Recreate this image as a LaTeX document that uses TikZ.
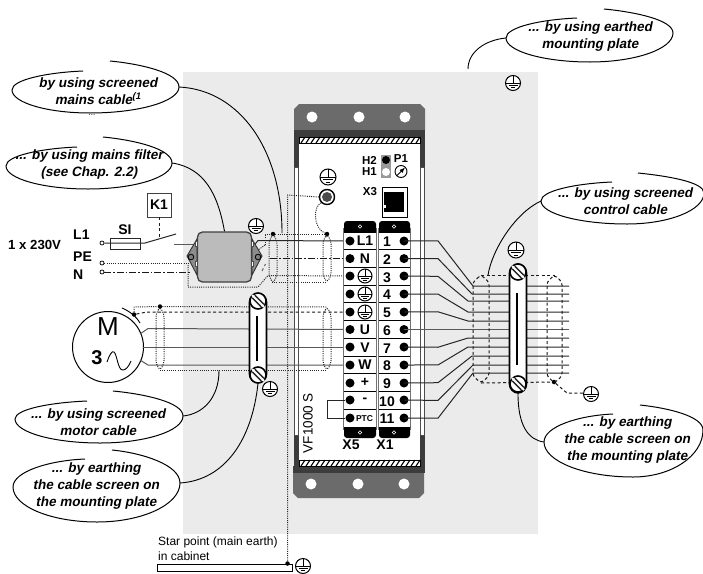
\documentclass[tikz,border=0pt]{standalone}
\usepackage{fontspec}
\setmainfont{Liberation Sans}
\newfontfamily\bubfont[FakeSlant=0.2]{Liberation Sans Bold}
\usetikzlibrary{calc}
\definecolor{plate}{HTML}{EBEBEB}
\definecolor{midg}{HTML}{6B6B6B}
\definecolor{darkg}{HTML}{3C3C3C}
\definecolor{filterg}{HTML}{BBBBBB}
\tikzset{
  wire/.style={line width=1pt,black!85},
  gwire/.style={line width=1pt,black!65},
  dots/.style={line width=1pt,black!85,dash pattern=on 1pt off 1.2pt},
  dashd/.style={line width=1pt,black!90,dash pattern=on 3pt off 2.5pt},
  dashdot/.style={line width=1pt,black!90,dash pattern=on 7pt off 2pt on 1.5pt off 2pt},
  bub/.style={line width=1pt,black},
  lead/.style={line width=.9pt,black},
  bubtext/.style={font=\bubfont\fontsize{13.5}{17}\selectfont,align=center,inner sep=0pt},
  lab/.style={font=\fontsize{14}{15}\selectfont\bfseries,inner sep=0pt},
  smalllab/.style={font=\fontsize{11.5}{13}\selectfont\bfseries,inner sep=0pt},
  plain/.style={font=\fontsize{12}{14}\selectfont,inner sep=0pt,anchor=base west},
  jdot/.style={circle,fill=black,inner sep=0pt,minimum size=4.5pt},
  tdot/.style={circle,fill=black,inner sep=0pt,minimum size=9pt},
  oc/.style={circle,draw=black,fill=white,line width=.7pt,inner sep=0pt,minimum size=4pt},
  hole/.style={circle,fill=white,inner sep=0pt,minimum size=11pt},
  tinyhole/.style={circle,draw=white,line width=.6pt,inner sep=0pt,minimum size=3.5pt},
}
\newcommand{\earthsym}[3]{%
  \draw[line width=1pt,fill=white] (#1,#2) circle (#3);
  \draw[line width=1pt] ({#1-#3},#2) -- ({#1+#3},#2)
    (#1,{#2-#3}) -- (#1,#2)
    ({#1-.6*#3},{#2+.35*#3}) -- ({#1+.6*#3},{#2+.35*#3})
    ({#1-.3*#3},{#2+.65*#3}) -- ({#1+.3*#3},{#2+.65*#3});}
\newcommand{\screwsym}[2]{%
  \draw[line width=1.6pt,fill=white] (#1,#2) circle (8);
  \draw[line width=5pt,black!85] ({#1-4.5},{#2-4.5}) -- ({#1+4.5},{#2+4.5});
  \draw[line width=2pt,white] ({#1-6},{#2-6}) -- ({#1+6},{#2+6});}
\newcommand{\lenssym}[5]{%
  \draw[#5,rounded corners=3pt] (#1,#2) -- ({#1-#4},{#2+7}) -- ({#1-#4},{#3-7}) -- (#1,#3)
    -- ({#1+#4},{#3-7}) -- ({#1+#4},{#2+7}) -- cycle;}
\newcommand{\bubblepath}[6]{%
  \coordinate (#1s) at (#2); \coordinate (#1r) at (#3); \coordinate (#1b) at (#4);
  \coordinate (#1l) at (#5); \coordinate (#1t) at (#6);
  \draw[bub] (#1s) .. controls ($(#1s)!.45!(#1s -| #1r)+(0,3)$) and ($(#1r)!.55!(#1s -| #1r)$) .. (#1r)
    .. controls ($(#1r)!.55!(#1r |- #1b)$) and ($(#1b)!.55!(#1r |- #1b)$) .. (#1b)
    .. controls ($(#1b)!.55!(#1l |- #1b)$) and ($(#1l)!.55!(#1l |- #1b)$) .. (#1l)
    .. controls ($(#1l)!.55!(#1l |- #1t)$) and ($(#1t)!.5!(#1l |- #1t)+(0,1.5)$) .. (#1t);}
\begin{document}
\begin{tikzpicture}[x=1pt,y=-1pt]
\useasboundingbox (0,0) rectangle (703,573);
% mounting plate
\fill[plate] (183,72) rectangle (538,534);
% device body
\fill[white] (299,130) rectangle (420,473);
\fill[midg] (294,130) -- (294,109) -- (299,104) -- (420,104) -- (425,109) -- (425,130) -- cycle;
\fill[midg] (293,473) -- (293,493) -- (298,498) -- (419,498) -- (424,493) -- (424,473) -- cycle;
\fill[darkg] (294,130) rectangle (425,137);
\fill[darkg] (293,466) rectangle (424,473);
\fill[darkg] (294,130) rectangle (299,167);
\fill[darkg] (420,130) rectangle (425,167);
\fill[darkg] (293.5,435) rectangle (299,473);
\fill[darkg] (420,435) rectangle (424.5,473);
\draw[black!70,line width=1pt,fill=white] (294.5,167) rectangle (298.5,435);
\draw[black!70,line width=1pt,fill=white] (420.5,167) rectangle (424.5,435);
\foreach \y in {137,460}{
  \draw[black,line width=.7pt,fill=white] (299,\y) rectangle (420,{\y+6});
  \foreach \x in {301,306,...,416}{
    \draw[black,line width=1.1pt] (\x,{\y+6}) -- ({\x+4},\y);}
}
\foreach \x/\n in {312/a,359/b,405/c}{\node[hole] (th\n) at (\x,117) {};}
\foreach \x/\n in {311/a,358/b,404/c}{\node[hole] (bh\n) at (\x,484) {};}
% LEDs, pot, socket
\fill[black!40] (381,155) rectangle (391,178);
\node[circle,fill=black,inner sep=0pt,minimum size=8pt] (led2) at (386,160) {};
\node[circle,fill=white,inner sep=0pt,minimum size=8pt] (led1) at (386,172) {};
\node[smalllab] (h2) at (369.5,160) {H2};
\node[smalllab] (h1) at (369.5,172) {H1};
\node[smalllab] (p1) at (401,158.5) {P1};
\draw[line width=.9pt] (401,171.5) circle (6);
\draw[line width=.9pt,-latex] (397,175.5) -- (405,167.5);
\node[smalllab] (x3) at (370,192) {X3};
\draw[line width=1pt,fill=white] (382,187) rectangle (407,217);
\fill[black] (384,192) rectangle (404,212);
\fill[white] (384,205) rectangle (386,208);
% earth bolt
\earthsym{328}{177}{8}
\node[circle,draw=black,line width=1.4pt,fill=white,inner sep=0pt,minimum size=15pt] (bolt) at (327,197) {};
\fill[black!70] (327,197) circle (5);
% terminal coordinates
\foreach \i/\y in {1/241,2/258.6,3/276,4/294,5/312,6/329.5,7/347,8/365,9/383,10/400,11/418}{
  \coordinate (v\i) at (350,\y);
  \coordinate (o\i) at (404,\y);
}
% star point wiring
\node[jdot] (ja) at (327,234) {};
\node[jdot] (jb) at (273,234) {};
\draw[dots] (bolt.west) -- (287.5,195) -- (287.5,563);
\draw[dots] (bolt.south west) .. controls (313,206) and (313,228) .. (ja);
% mains cable screen
\draw[dots] (265,245) -- (265,234) -- (jb) -- (ja);
\draw[dots] (265,245) -- (258,250);
\draw[dots] (272,282.5) -- (327,282.5);
\draw[dots] (188,265) -- (188,287) -- (258,287) -- (268,275.5) -- (v3);
\lenssym{273}{234}{283}{4}{dots}
\lenssym{327}{234}{282.5}{4}{dots}
\draw[wire] (252,248) -- (258,240.5) -- (v1);
\draw[dashdot] (270,258.6) -- (v2);
\draw[dashd,black!60] (262,271) -- (265.5,264);
% supply side
\node[oc] (cl1) at (102,243) {};
\node[oc] (cpe) at (102,263) {};
\node[oc] (cn) at (102,272) {};
\draw[wire] (cl1) -- (145,243) -- (176,234);
\draw[gwire] (174,244) -- (197,244);
\draw[dots] (cpe) -- (190,263);
\draw[dashdot] (cn) -- (190,272);
\draw[wire] (110,238) rectangle (140,249);
\node[lab] (si) at (125,230) {SI};
\node[lab,draw=black!75,line width=.9pt,minimum width=24pt,minimum height=24pt] (k1) at (159,205) {K1};
\coordinate (swm) at (159,238);
\draw[dashd] (k1.south) -- (swm);
\node[lab,anchor=west] (l1) at (73,235) {L1};
\node[lab,anchor=west] (pe) at (73,257) {PE};
\node[lab,anchor=west] (nn) at (73,275) {N};
\node[font=\fontsize{13.2}{15}\selectfont\bfseries,inner sep=0pt,anchor=west] (volt) at (8,245) {1 x 230V};
% filter
\draw[black!80,line width=.9pt,fill=black!45] (197,239) -- (187,256) -- (197,275) -- cycle;
\draw[black!80,line width=.9pt,fill=black!45] (252,239) -- (262,256) -- (252,275) -- cycle;
\node[draw=black!75,line width=1.3pt,fill=filterg,rounded corners=5pt,minimum width=54pt,minimum height=50pt,inner sep=0pt] (filter) at (224.5,257) {};
\foreach \x in {191,258}{\draw[line width=.8pt,fill=black!50] (\x,257) circle (2.8);}
\foreach \x in {196.5,252.5}{\foreach \y in {241,261}{\draw[black!70,line width=.5pt,fill=white] ({\x-1.2},\y) rectangle ({\x+1.2},{\y+5});}}
\earthsym{256}{226}{7.5}
% motor
\node[circle,draw=black,line width=1pt,fill=white,minimum size=71pt,inner sep=0pt] (motor) at (108,347) {};
\node[font=\fontsize{26}{28}\selectfont,inner sep=0pt] (mm) at (108,327) {M};
\node[font=\fontsize{20}{20}\selectfont\bfseries,inner sep=0pt] (m3) at (97,358) {3};
\draw[line width=.9pt] (107,362) .. controls (109,356) and (112,350) .. (114,352) .. controls (117,354) and (118,371) .. (123,370) .. controls (126,370) and (129,366) .. (131,361);
\draw[line width=.9pt] (122,308) .. controls (129,311) and (136,316) .. (140,323);
\node[jdot] (jm) at (134,314.5) {};
\node[jdot] (jn) at (160,306.5) {};
\draw[gwire] (140,334) -- (148,328.5) -- (v6);
\draw[gwire] (143,347) -- (v7);
\draw[gwire] (140,360) -- (148,365) -- (v8);
\draw[dots] (jm) -- (134,307) -- (jn) -- (327,307);
\draw[dashd] (jm) -- (147,312) -- (v5);
\draw[dots] (160,370.5) -- (327,370.5);
\lenssym{160}{307}{370.5}{4}{dots}
\lenssym{327}{307}{370.5}{4}{dots}
% left clamp
\node[draw=black,line width=1.6pt,fill=white,rounded corners=8.5pt,minimum width=17pt,minimum height=89pt,inner sep=0pt] (clampL) at (258,338) {};
\screwsym{258}{301}
\screwsym{258}{375}
\draw[line width=2pt] (257,316) -- (257,361);
\earthsym{270}{389}{7.5}
% terminal blocks
\foreach \xl/\xr/\n in {344/376/a,379/410/b}{
  \fill[black!55] ({\xl-1},228) rectangle ({\xr+1},430);
  \fill[white] (\xl,232) rectangle (\xr,427);
  \foreach \i in {1,...,10}{\draw[black,line width=1pt] (\xl,{232+17.73*\i}) -- (\xr,{232+17.73*\i});}
  \fill[black,rounded corners=3pt] (\xl,221) rectangle (\xr,236);
  \fill[black,rounded corners=3pt] (\xl,423) rectangle (\xr,438);
  \fill[white] (\xl,232.5) rectangle (\xr,249);
  \fill[white] (\xl,410) rectangle (\xr,426.5);
}
\foreach \x/\n in {360/a,394/b}{
  \node[tinyhole] (ht\n) at (\x,226.5) {};
  \node[tinyhole] (hb\n) at (\x,432.5) {};
}
\foreach \i in {1,...,11}{
  \node[tdot] (dv\i) at (v\i) {};
  \node[tdot] (do\i) at (o\i) {};
}
\foreach \i/\t in {1/L1,2/N,6/U,7/V,8/W,9/+,10/-}{\node[lab] (tv\i) at (365,{232+17.73*(\i-.5)}) {\t};}
\node[font=\fontsize{8.5}{10}\selectfont\bfseries,inner sep=0pt] (tv11) at (364.5,418.5) {PTC};
\foreach \y in {276,294,312}{\earthsym{365}{\y}{7}}
\foreach \i in {1,...,11}{\node[lab] (to\i) at (387,{232+17.73*(\i-.5)+1}) {\i};}
\draw[wire] (dv10) -- (327,400) -- (327,418) -- (dv11);
\node[lab] (x5) at (351,445) {X5};
\node[lab] (x1) at (385,445) {X1};
\node[font=\fontsize{13.5}{15}\selectfont,rotate=90,inner sep=0pt] (vf) at (308,423) {VF1000 S};
% control wires
\foreach \i/\ya/\xb/\yb in {1/286/473/286,2/294/472/294,3/301/468/301,4/312/468/312,5/321/468/321,6/329.5/440/329.5,7/338/468/338,8/347/468/347,9/356/472/356,10/365/473/365,11/373/473/373}{
  \coordinate (e\i) at (569,\ya);
  \coordinate (k\i) at (\xb,\yb);
  \ifnum\i=6
    \draw[gwire] (o6) -- (e6);
  \else
    \draw[wire] (o\i) -- (438,{232+17.73*(\i-.5)}) -- (k\i) -- (e\i);
  \fi
}
% control screen
\coordinate (sct) at (481,275); \coordinate (scb) at (481,383);
\node[jdot] (jr) at (554,382) {};
\draw[dashd] (sct) -- (555,275);
\draw[dashd] (scb) -- (jr);
\lenssym{481}{275}{383}{8}{dashd}
\lenssym{554.5}{275}{383}{7.5}{dashd}
\draw[dashd] (jr) -- (567,393) -- (583,393);
\earthsym{591}{394}{7.5}
\node[draw=black,line width=1.6pt,fill=white,rounded corners=9pt,minimum width=17pt,minimum height=129pt,inner sep=0pt] (clampR) at (518,328.5) {};
\screwsym{518}{272}
\screwsym{518}{384}
\draw[line width=2pt] (517,293) -- (517,365);
\earthsym{516}{250}{8}
\earthsym{513}{83}{7.5}
% star point
\node[draw=black,line width=1pt,fill=white,minimum width=135pt,minimum height=7pt,inner sep=0pt] (star) at (224.5,567.5) {};
\node[jdot] (js) at (287.5,563.5) {};
\earthsym{303}{566}{7.5}
\node[plain] (st1) at (158,545) {Star point (main earth)};
\node[plain] (st2) at (158,560) {in cabinet};
% bubbles
\bubblepath{ba}{604,9}{673,33}{590,62}{506,38}{577,18}
\node[bubtext] (ta) at (590,36.5) {... by using earthed\\mounting plate};
\draw[lead] (bal) .. controls (485,40) and (468,52) .. (468,69);
\bubblepath{bb}{638,173}{704,193}{627,224}{541,201}{612,182}
\node[bubtext] (tb) at (625,201.5) {... by using screened\\control cable};
\draw[lead] (bbl) .. controls (515,213) and (492,250) .. (488,275);
\bubblepath{bc}{640,405}{703,430}{633,477}{544,442}{613,414}
\node[bubtext] (tc) at (627,440.5) {... by earthing\\the cable screen on\\the mounting plate};
\draw[lead] (bcl) .. controls (528,440) and (518,425) .. (clampR.south);
\bubblepath{bd}{110,61}{179,87}{90,113}{12,90}{83,71}
\node[bubtext] (td) at (98,91) {by using screened\\mains cable\textsuperscript{(1}};
\node[font=\fontsize{8}{9}\selectfont,inner sep=0pt] (dots1) at (92,115) {...};
\draw[lead] (bdr) .. controls (240,90) and (282,150) .. (282,233);
\bubblepath{be}{103,137}{172,163}{88,189}{6,166}{77,147}
\node[bubtext] (te) at (89,164.5) {... by using mains filter\\(see Chap. 2.2)};
\draw[lead] (ber) .. controls (205,168) and (218,195) .. (filter.north);
\bubblepath{bf}{113,391}{183,416}{100,443}{15,419}{87,401}
\node[bubtext] (tf) at (98,422) {... by using screened\\motor cable};
\draw[lead] (bfr) .. controls (203,414) and (219,398) .. (219,370.5);
\bubblepath{bg}{112,450}{180,483}{97,522}{13,487}{85,459}
\node[bubtext] (tg) at (96,486) {... by earthing\\the cable screen on\\the mounting plate};
\draw[lead] (bgr) .. controls (225,480) and (252,440) .. (clampL.south);
\end{tikzpicture}
\end{document}
